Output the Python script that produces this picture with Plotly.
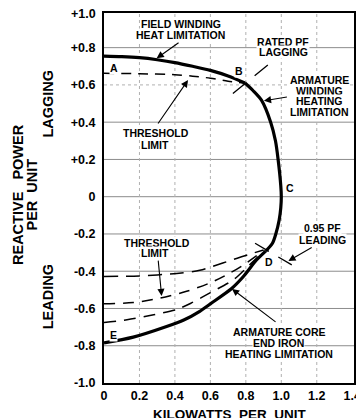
import plotly.graph_objects as go

# ---- data ----
FIELD_X = [0.0, 0.1, 0.2, 0.3, 0.4, 0.5, 0.6, 0.7, 0.795]
FIELD_Y = [0.755, 0.752, 0.746, 0.735, 0.72, 0.70, 0.678, 0.648, 0.61]

ARM_X = [0.795, 0.84, 0.888, 0.94, 0.967, 0.982, 0.997, 1.0, 0.997, 0.988, 0.969, 0.95, 0.912]
ARM_Y = [0.61, 0.57, 0.518, 0.4, 0.3, 0.2, 0.06, 0.0, -0.06, -0.125, -0.2, -0.25, -0.292]

IRON_X = [0.0, 0.165, 0.353, 0.45, 0.54, 0.6, 0.72, 0.785, 0.86, 0.912]
IRON_Y = [-0.785, -0.754, -0.697, -0.662, -0.615, -0.575, -0.493, -0.43, -0.34, -0.292]

THR_UP_X = [0.0, 0.2, 0.4, 0.5, 0.6, 0.7, 0.795]
THR_UP_Y = [0.662, 0.66, 0.655, 0.647, 0.636, 0.62, 0.61]

THR1_X = [0.0, 0.2, 0.41, 0.54, 0.67, 0.79, 0.9]
THR1_Y = [-0.428, -0.425, -0.412, -0.395, -0.356, -0.318, -0.286]

THR2_X = [0.0, 0.165, 0.315, 0.466, 0.6, 0.71, 0.8, 0.9]
THR2_Y = [-0.575, -0.568, -0.545, -0.508, -0.462, -0.41, -0.358, -0.29]

THR3_X = [0.0, 0.13, 0.28, 0.41, 0.49, 0.6, 0.73, 0.8, 0.86, 0.9]
THR3_Y = [-0.675, -0.661, -0.634, -0.605, -0.572, -0.515, -0.446, -0.385, -0.33, -0.292]

RATED_PF_X = [0.727, 0.93]
RATED_PF_Y = [0.554, 0.711]
LEAD_PF_X = [0.852, 1.059]
LEAD_PF_Y = [-0.25, -0.366]

X_TICKS = [0, 0.2, 0.4, 0.6, 0.8, 1.0, 1.2, 1.4]
X_TICK_TEXT = ["0", "0.2", "0.4", "0.6", "0.8", "1.0", "1.2", "1.4"]
Y_TICKS = [-1.0, -0.8, -0.6, -0.4, -0.2, 0, 0.2, 0.4, 0.6, 0.8]
Y_TICK_TEXT = ["-1.0", "-0.8", "-0.6", "-0.4", "-0.2", "0", "+0.2", "+0.4", "+0.6", "+0.8"]
SOLID_GRID = [0.8, 0.4, 0.2, 0, -0.2, -0.4, -0.6, -0.8]
DOTTED_GRID = [0.6]
V_GRID = [0.2, 0.4, 0.6, 0.8, 1.0, 1.2]

FONT = "Liberation Sans, Arial, Helvetica, sans-serif"
NB = "\u00a0"

fig = go.Figure()

def thick(x, y):
    fig.add_trace(go.Scatter(x=x, y=y, mode="lines", showlegend=False, hoverinfo="skip",
                             line=dict(color="black", width=3.2, shape="spline", smoothing=0.8)))

def dashed(x, y, dash="11px,7px", width=1.5, shape="spline"):
    fig.add_trace(go.Scatter(x=x, y=y, mode="lines", showlegend=False, hoverinfo="skip",
                             line=dict(color="black", width=width, dash=dash, shape=shape, smoothing=0.8)))

dashed(THR_UP_X, THR_UP_Y, dash="10px,7px")
dashed(THR1_X, THR1_Y, dash="14px,8px")
dashed(THR2_X, THR2_Y, dash="11px,8px")
dashed(THR3_X, THR3_Y, dash="12px,8px")
dashed(RATED_PF_X, RATED_PF_Y, dash="17px,11px", width=1.3, shape="linear")
dashed(LEAD_PF_X, LEAD_PF_Y, dash="16px,11px", width=1.3, shape="linear")
thick(FIELD_X, FIELD_Y)
thick(ARM_X, ARM_Y)
thick(IRON_X, IRON_Y)

shapes = []
for g in SOLID_GRID:
    shapes.append(dict(type="line", xref="paper", x0=0, x1=1, yref="y", y0=g, y1=g,
                       line=dict(color="#8c8c8c", width=1), layer="below"))
for g in DOTTED_GRID:
    shapes.append(dict(type="line", xref="paper", x0=0, x1=1, yref="y", y0=g, y1=g,
                       line=dict(color="#b0b0b0", width=1, dash="dot"), layer="below"))
for g in V_GRID:
    shapes.append(dict(type="line", yref="paper", y0=0, y1=1, xref="x", x0=g, x1=g,
                       line=dict(color="#b0b0b0", width=1, dash="dot"), layer="below"))

ann = []
def label(text, x, y, size=10.5):
    ann.append(dict(text=text, x=x, y=y, xref="x", yref="y", showarrow=False,
                    font=dict(family=FONT, size=size, color="black", weight="bold"),
                    bgcolor="white", borderpad=0, xanchor="center", yanchor="middle"))

def arrow(x, y, ax, ay):
    ann.append(dict(text="", x=x, y=y, ax=ax, ay=ay, xref="x", yref="y", axref="x", ayref="y",
                    showarrow=True, arrowhead=2, arrowsize=1.3, arrowwidth=1.1, arrowcolor="black"))

label("FIELD WINDING", 0.434, 0.926)
label("HEAT LIMITATION", 0.429, 0.867)
label("RATED PF", 1.008, 0.832)
label("LAGGING", 1.01, 0.778)
label("ARMATURE", 1.213, 0.626)
label("WINDING", 1.213, 0.57)
label("HEATING", 1.213, 0.513)
label("LIMITATION", 1.213, 0.454)
label("THRESHOLD", 0.296, 0.34)
label("LIMIT", 0.29, 0.277)
label("THRESHOLD", 0.299, -0.247)
label("LIMIT", 0.29, -0.304)
label("0.95 PF", 1.23, -0.17)
label("LEADING", 1.23, -0.232)
label("ARMATURE" + NB + "CORE", 0.987, -0.724)
label("END IRON", 0.984, -0.786)
label("HEATING LIMITATION", 0.987, -0.844)
label("A", 0.056, 0.69)
label("B", 0.764, 0.676)
label("C", 1.049, 0.045)
label("D", 0.933, -0.349)
label("E", 0.052, -0.742)

arrow(0.297, 0.743, 0.429, 0.832)
arrow(0.902, 0.515, 1.04, 0.536)
arrow(0.474, 0.626, 0.299, 0.385)
arrow(0.325, -0.533, 0.305, -0.335)
arrow(1.04, -0.345, 1.18, -0.268)
arrow(0.722, -0.495, 0.976, -0.678)

# axis side labels
big = dict(family=FONT, size=14.5, color="black", weight="bold")
ann.append(dict(text="REACTIVE" + NB * 3 + "POWER", xref="paper", yref="paper", x=0, y=0.5,
                xshift=-86, yshift=3, showarrow=False, textangle=-90, font=big,
                xanchor="center", yanchor="middle"))
ann.append(dict(text="PER" + NB * 2 + "UNIT", xref="paper", yref="paper", x=0, y=0.5,
                xshift=-72.5, yshift=3, showarrow=False, textangle=-90, font=big,
                xanchor="center", yanchor="middle"))
ann.append(dict(text="LAGGING", xref="paper", yref="y", x=0, y=0.5, xshift=-56,
                showarrow=False, textangle=-90, font=big, xanchor="center", yanchor="middle"))
ann.append(dict(text="LEADING", xref="paper", yref="y", x=0, y=-0.54, xshift=-56,
                showarrow=False, textangle=-90, font=big, xanchor="center", yanchor="middle"))
ann.append(dict(text="+1.0", xref="paper", yref="paper", x=0, y=1, xshift=-6, yshift=-0.5,
                showarrow=False, font=dict(family=FONT, size=12.5, color="black", weight="bold"),
                xanchor="right", yanchor="middle"))
ann.append(dict(text="KILOWATTS" + NB * 2 + "PER" + NB * 2 + "UNIT", xref="paper", yref="paper",
                x=0.5, y=0, yshift=-22, showarrow=False,
                font=dict(family=FONT, size=13.5, color="black", weight="bold"),
                xanchor="center", yanchor="top"))

fig.update_layout(
    width=356, height=418,
    margin=dict(l=104, r=2, t=13, b=35, autoexpand=False),
    paper_bgcolor="white", plot_bgcolor="white",
    shapes=shapes, annotations=ann,
    xaxis=dict(range=[0, 1.41], tickvals=X_TICKS, ticktext=X_TICK_TEXT, showgrid=False,
               zeroline=False, showline=True, linecolor="black", linewidth=2, mirror=True,
               ticks="", ticklabelstandoff=0, ticklabeloverflow="allow", automargin=False,
               tickfont=dict(family=FONT, size=12.5, color="black", weight="bold")),
    yaxis=dict(range=[-1.0, 0.986], tickvals=Y_TICKS, ticktext=Y_TICK_TEXT, showgrid=False,
               zeroline=False, showline=True, linecolor="black", linewidth=2, mirror=True,
               ticks="", ticklabelstandoff=4, ticklabeloverflow="allow", automargin=False,
               tickfont=dict(family=FONT, size=12.5, color="black", weight="bold")),
)

fig.write_html("out.html", config={"displayModeBar": False},
               post_script="document.body.style.margin='0';document.body.style.overflow='hidden';")
